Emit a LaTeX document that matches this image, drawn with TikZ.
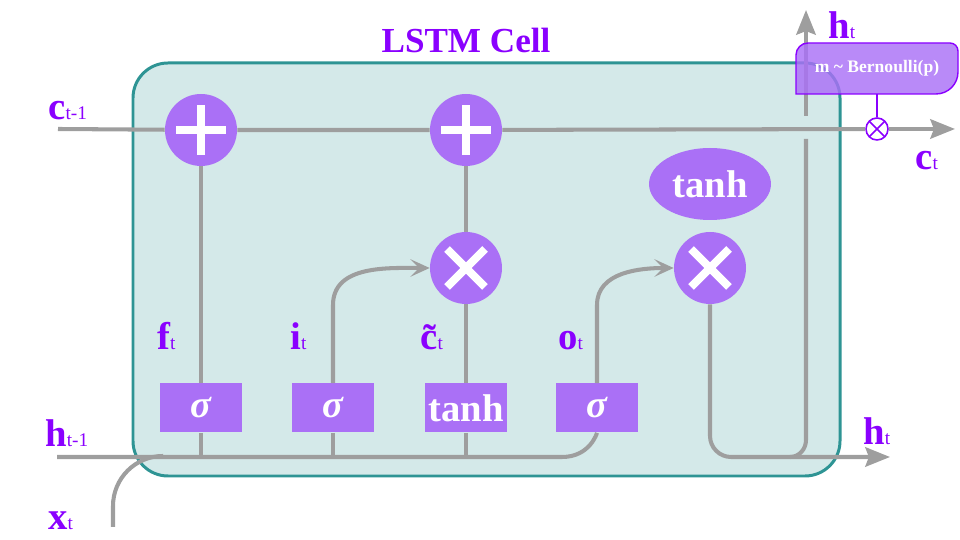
\documentclass[tikz,border=0pt]{standalone}
\usepackage{fontspec}
\setmainfont{Liberation Serif}
\usetikzlibrary{arrows.meta,positioning,shapes.geometric}
\definecolor{CellFill}{HTML}{D4E9E9}
\definecolor{CellEdge}{HTML}{2E9494}
\definecolor{GateFill}{HTML}{AA70F6}
\definecolor{LabelPurple}{HTML}{8A00FF}
\definecolor{WireGray}{HTML}{9E9E9E}
\newcommand{\idx}[1]{{\fontsize{11}{11}\selectfont\mdseries #1}}
\tikzset{
  wire/.style={draw=WireGray,line width=2.3pt},
  wirehead/.style={wire,-{Stealth[length=14pt,width=11pt,inset=2pt]}},
  wiretip/.style={wire,-{Stealth[length=11pt,width=10pt,inset=5pt]}},
  opnode/.style={circle,fill=GateFill,minimum size=1.44cm,inner sep=0pt},
  addop/.style={opnode,path picture={
      \draw[white,line width=4.5pt]
        ([xshift=-0.5cm]path picture bounding box.center) -- ([xshift=0.5cm]path picture bounding box.center)
        ([yshift=-0.5cm]path picture bounding box.center) -- ([yshift=0.5cm]path picture bounding box.center);}},
  mulop/.style={opnode,path picture={
      \draw[white,line width=4.5pt]
        ([shift={(-0.38cm,-0.38cm)}]path picture bounding box.center) -- ([shift={(0.38cm,0.38cm)}]path picture bounding box.center)
        ([shift={(-0.38cm,0.38cm)}]path picture bounding box.center) -- ([shift={(0.38cm,-0.38cm)}]path picture bounding box.center);}},
  gatebox/.style={rectangle,fill=GateFill,minimum width=1.64cm,minimum height=0.98cm,
      inner sep=0pt,text=white,font=\fontsize{22}{22}\selectfont\bfseries},
  lbl/.style={text=LabelPurple,font=\fontsize{22}{22}\selectfont\bfseries,anchor=base west,inner sep=0pt},
}

\begin{document}
\begin{tikzpicture}[x=0.02cm,y=0.02cm]
  \useasboundingbox (0,0) rectangle (960,540);

  % cell body
  \draw[fill=CellFill,draw=CellEdge,line width=1.7pt,rounded corners=0.7cm]
    (133,64) rectangle (840,477);
  \node[text=LabelPurple,font=\fontsize{20}{20}\selectfont\bfseries,anchor=base]
    (title) at (466,487) {LSTM Cell};

  % pointwise operations
  \node[addop] (addf) at (201,410) {};
  \node[addop] (addi) at (466,410) {};
  \node[mulop] (mulin) at (466,272) {};
  \node[mulop] (mulout) at (710,272) {};
  \node[ellipse,fill=GateFill,minimum width=2.44cm,minimum height=1.44cm,inner sep=0pt,
        text=white,font=\fontsize{22}{22}\selectfont\bfseries] (tanhout) at (710,356) {tanh};
  \node[circle,draw=LabelPurple,fill=white,line width=0.9pt,minimum size=0.44cm,inner sep=0pt,
        path picture={\draw[LabelPurple,line width=0.9pt]
          (path picture bounding box.south west) -- (path picture bounding box.north east)
          (path picture bounding box.north west) -- (path picture bounding box.south east);}]
    (maskop) at (877,411) {};

  % gates
  \node[gatebox] (gatef) at (201,132) {\itshape σ};
  \node[gatebox] (gatei) at (333,132) {\itshape σ};
  \node[gatebox] (gatec) at (466,132) {tanh};
  \node[gatebox] (gateo) at (597,132) {\itshape σ};

  % labels
  \node[lbl] (lblct1) at (48,420) {c\idx{t-1}};
  \node[lbl] (lblht1) at (45,93) {h\idx{t-1}};
  \node[lbl] (lblxt) at (48,10) {x\idx{t}};
  \node[lbl] (lblhtup) at (828,501) {h\idx{t}};
  \node[lbl] (lblct) at (915,370) {c\idx{t}};
  \node[lbl] (lblhtout) at (863,95) {h\idx{t}};
  \node[lbl] (lblf) at (157,190) {f\idx{t}};
  \node[lbl] (lbli) at (290,190) {i\idx{t}};
  \node[lbl] (lblc) at (420,190) {\~{c}\idx{t}};
  \node[lbl] (lblo) at (558,190) {o\idx{t}};

  \coordinate (ctin) at (58,411);
  \coordinate (ctout) at (955,411);
  \coordinate (htin) at (57,83);
  \coordinate (xtin) at (113,13);
  \coordinate (htout) at (890,83);
  \coordinate (htup) at (806,530);

  % cell state
  \draw[wire] (ctin) -- (addf) -- (addi) -- (maskop);
  \draw[wirehead] (maskop) -- (ctout);

  % inputs
  \draw[wire] (htin) -- (562,83) .. controls (590,83) and (gateo.south) .. (gateo.south);
  \draw[wire,rounded corners=1cm] (xtin) -- (113,84) -- (163,84);
  \draw[wire] (gatef.south) -- (gatef.south |- htin);
  \draw[wire] (gatei.south) -- (gatei.south |- htin);
  \draw[wire] (gatec.south) -- (gatec.south |- htin);

  % gate outputs
  \draw[wire] (gatef) -- (addf);
  \draw[wiretip] (gatei) -- (333,235) to[out=90,in=180] (mulin.west);
  \draw[wire] (gatec) -- (mulin);
  \draw[wire] (mulin) -- (addi);
  \draw[wiretip] (gateo.north) -- (597,235) to[out=90,in=180] (mulout.west);

  % hidden state out
  \draw[wirehead,rounded corners=12pt] (mulout) |- (htout);
  \draw[wire] (790,83) to[out=0,in=-90] (806,100) -- (806,401);
  \draw[wirehead] (806,424) -- (htup);

  % dropout mask
  \path[fill=GateFill,fill opacity=0.82,draw=LabelPurple,line width=0.8pt]
    (796,446) -- (796,485) arc[start angle=180,end angle=90,radius=12]
    -- (950,497) arc[start angle=90,end angle=0,radius=8]
    -- (958,468) arc[start angle=0,end angle=-90,radius=22] -- cycle;
  \node[minimum width=3.24cm,minimum height=1.02cm,inner sep=0pt,text=white,
        font=\fontsize{10}{10}\selectfont\bfseries] (maskbox) at (877,471.5)
    {m \textasciitilde{} Bernoulli(p)};
  \draw[LabelPurple,line width=0.8pt] (maskop) -- (maskbox);
\end{tikzpicture}
\end{document}
